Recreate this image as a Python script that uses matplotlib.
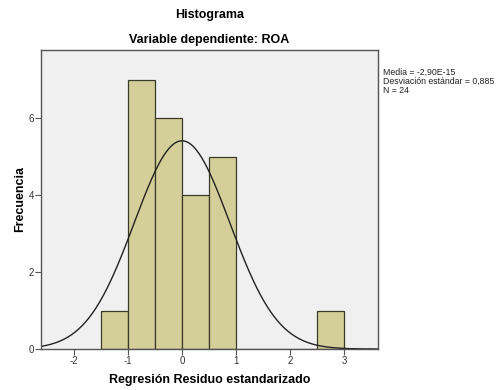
import numpy as np
import matplotlib.pyplot as plt

plt.rcParams['font.family'] = ['Liberation Sans', 'DejaVu Sans']
plt.rcParams['axes.unicode_minus'] = False

# histogram of standardized residuals
bin_edges = [-1.5, -1.0, -0.5, 0.0, 0.5, 1.0, 1.5, 2.0, 2.5, 3.0]
counts = [1, 7, 6, 4, 5, 0, 0, 0, 1]
media = -2.90e-15
desv = 0.885
n = 24

fig = plt.figure(figsize=(4.96, 3.9), dpi=100)
ax = fig.add_axes([0.083, 0.105, 0.679, 0.767])
ax.set_facecolor('#f0f0f0')

left = np.array(bin_edges[:-1])
width = np.diff(bin_edges)
ax.bar(left, counts, width=width, align='edge', color='#d4cf98',
       edgecolor='#3a3a2a', linewidth=0.9)

# normal curve scaled to the counts
x = np.linspace(-2.7, 3.7, 400)
y = n * 0.5 / (desv * np.sqrt(2 * np.pi)) * np.exp(-0.5 * ((x - media) / desv) ** 2)
ax.plot(x, y, color='#222222', linewidth=1.0)

ax.set_xlim(-2.61, 3.63)
ax.set_ylim(0, 7.77)
ax.set_xticks([-2, -1, 0, 1, 2, 3])
ax.set_yticks([0, 2, 4, 6])
ax.tick_params(labelsize=7, length=4, width=0.8, color='#555555', labelcolor='#333333', pad=1)
for s in ax.spines.values():
    s.set_color('#555555')
    s.set_linewidth(1.0)

ax.set_xlabel('Regresión Residuo estandarizado', fontsize=9, fontweight='bold', labelpad=6)
ax.set_ylabel('Frecuencia', fontsize=9, fontweight='bold', labelpad=2)

fig.text(0.422, 0.962, 'Histograma', ha='center', va='center', fontsize=9, fontweight='bold')
fig.text(0.422, 0.897, 'Variable dependiente: ROA', ha='center', va='center', fontsize=9, fontweight='bold')

fig.text(0.773, 0.825, 'Media = -2,90E-15\nDesviación estándar = 0,885\nN = 24',
         ha='left', va='top', fontsize=6.3, linespacing=0.95, color='#222222')

fig.savefig('out.png', dpi=100)
